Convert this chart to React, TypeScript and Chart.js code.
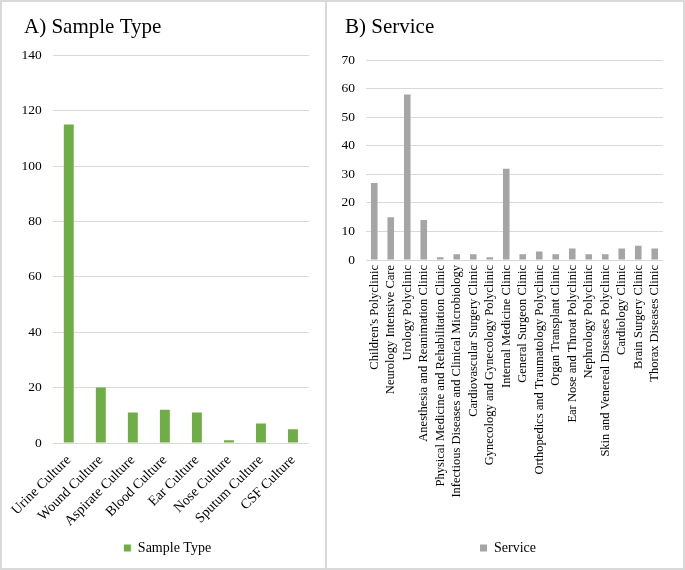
import React, { useEffect, useRef } from "react";
import { Chart, registerables } from "chart.js";

Chart.register(...registerables);

// ---- Data ----
const sampleTypes = [
  "Urine Culture",
  "Wound Culture",
  "Aspirate Culture",
  "Blood Culture",
  "Ear Culture",
  "Nose Culture",
  "Sputum Culture",
  "CSF Culture",
];
const sampleCounts = [115, 20, 11, 12, 11, 1, 7, 5];
const sampleAxis = [0, 140, 20]; // min, max, step

const services = [
  "Children's Polyclinic",
  "Neurology Intensive Care",
  "Urology Polyclinic",
  "Anesthesia and Reanimation Clinic",
  "Physical Medicine and Rehabilitation Clinic",
  "Infectious Diseases and Clinical Microbiology",
  "Cardiovascular Surgery Clinic",
  "Gynecology and Gynecology Polyclinic",
  "Internal Medicine Clinic",
  "General Surgeon Clinic",
  "Orthopedics and Traumatology Polyclinic",
  "Organ Transplant Clinic",
  "Ear Nose and Throat Polyclinic",
  "Nephrology Polyclinic",
  "Skin and Venereal Diseases Polyclinic",
  "Cardiology Clinic",
  "Brain Surgery Clinic",
  "Thorax Diseases Clinic",
];
const serviceCounts = [27, 15, 58, 14, 1, 2, 2, 1, 32, 2, 3, 2, 4, 2, 2, 4, 5, 4];
const serviceAxis = [0, 70, 10];

const FONT = "'Liberation Serif', 'Times New Roman', serif";
const GRID = "#d9d9d9";
const TEXT = "#000000";

type PanelCfg = {
  title: string;
  label: string;
  labels: string[];
  values: number[];
  axis: number[];
  color: string;
  barPct: number;
  rotation: number;
  titleX: number;
  legendDx: number;
  padRight: number;
  yWidth: number;
  xHeight: number;
  titleBottom: number;
  xFont: number;
  xPad: number;
};

// moves the title and legend blocks horizontally to their place in the panel
const blockShift = {
  id: "blockShift",
  afterLayout(chart: any, _args: any, opts: any) {
    if (chart.titleBlock && opts && typeof opts.titleX === "number") {
      chart.titleBlock.left = opts.titleX;
    }
    if (chart.legend && opts && typeof opts.legendDx === "number") {
      chart.legend.left += opts.legendDx;
      chart.legend.right += opts.legendDx;
    }
  },
};

function Panel({ cfg, w, h }: { cfg: PanelCfg; w: number; h: number }) {
  const ref = useRef<HTMLCanvasElement | null>(null);
  useEffect(() => {
    if (!ref.current) return;
    const chart = new Chart(ref.current, {
      type: "bar",
      data: {
        labels: cfg.labels,
        datasets: [
          {
            label: cfg.label,
            data: cfg.values,
            backgroundColor: cfg.color,
            borderWidth: 0,
            barPercentage: cfg.barPct,
            categoryPercentage: 1,
          },
        ],
      },
      plugins: [blockShift],
      options: {
        animation: false,
        responsive: true,
        maintainAspectRatio: false,
        layout: { padding: { left: 0, right: cfg.padRight, top: 0, bottom: 3 } },
        plugins: {
          blockShift: { titleX: cfg.titleX, legendDx: cfg.legendDx },
          title: {
            display: true,
            text: cfg.title,
            align: "start",
            color: TEXT,
            font: { family: FONT, size: 21, weight: "normal" },
            padding: { top: 13, bottom: cfg.titleBottom },
          },
          legend: {
            display: true,
            position: "bottom",
            labels: {
              color: TEXT,
              font: { family: FONT, size: 14 },
              boxWidth: 7,
              boxHeight: 7,
              padding: 10,
            },
          },
          tooltip: { enabled: false },
        },
        scales: {
          x: {
            grid: { display: false, drawTicks: false },
            border: { display: false },
            ticks: {
              color: TEXT,
              font: { family: FONT, size: cfg.xFont },
              autoSkip: false,
              minRotation: cfg.rotation,
              maxRotation: cfg.rotation,
              padding: cfg.xPad,
            },
            afterFit: (s: any) => {
              s.height = cfg.xHeight;
            },
          },
          y: {
            min: cfg.axis[0],
            max: cfg.axis[1],
            grid: { color: GRID, lineWidth: 1, drawTicks: false },
            border: { display: false },
            ticks: {
              stepSize: cfg.axis[2],
              color: TEXT,
              font: { family: FONT, size: 13.5 },
              padding: 11,
            },
            afterFit: (s: any) => {
              s.width = cfg.yWidth;
            },
          },
        },
      } as any,
    });
    return () => chart.destroy();
  }, [cfg]);
  return (
    <div style={{ position: "relative", width: w, height: h }}>
      <canvas ref={ref} />
    </div>
  );
}

const leftCfg: PanelCfg = {
  title: "A) Sample Type",
  label: "Sample Type",
  labels: sampleTypes,
  values: sampleCounts,
  axis: sampleAxis,
  color: "#70ad47",
  barPct: 0.31,
  rotation: 45,
  titleX: 22,
  legendDx: 12,
  padRight: 16,
  yWidth: 49,
  xHeight: 88,
  titleBottom: 15,
  xFont: 14,
  xPad: 9,
};

const rightCfg: PanelCfg = {
  title: "B) Service",
  label: "Service",
  labels: services,
  values: serviceCounts,
  axis: serviceAxis,
  color: "#a5a5a5",
  barPct: 0.4,
  rotation: 90,
  titleX: 18,
  legendDx: 13,
  padRight: 20,
  yWidth: 39,
  xHeight: 271,
  titleBottom: 20,
  xFont: 12.5,
  xPad: 5,
};

export default function App() {
  return (
    <div
      style={{
        position: "absolute",
        left: 0,
        top: 0,
        width: 685,
        height: 570,
        background: "#fff",
      }}
    >
      <div
        style={{
          position: "absolute",
          left: 0,
          top: 0,
          width: 327,
          height: 570,
          border: `2px solid ${GRID}`,
          boxSizing: "border-box",
        }}
      >
        <Panel cfg={leftCfg} w={323} h={566} />
      </div>
      <div
        style={{
          position: "absolute",
          left: 325,
          top: 0,
          width: 360,
          height: 570,
          border: `2px solid ${GRID}`,
          boxSizing: "border-box",
        }}
      >
        <Panel cfg={rightCfg} w={356} h={566} />
      </div>
    </div>
  );
}
